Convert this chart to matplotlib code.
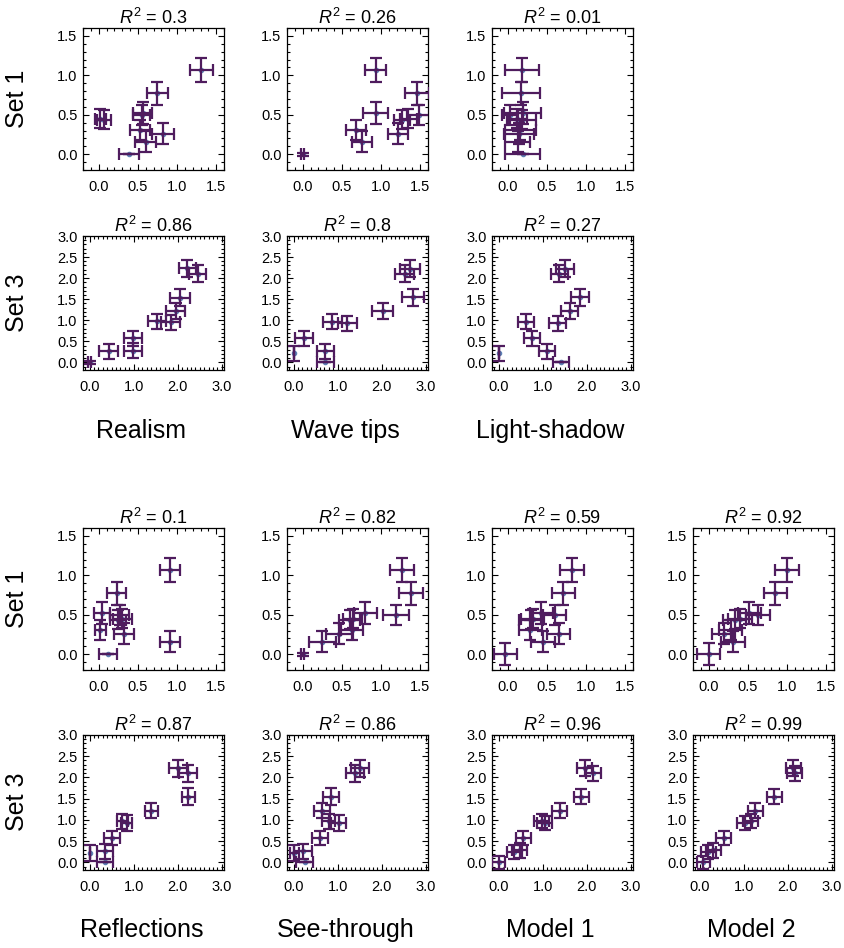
import matplotlib
matplotlib.use("Agg")
import matplotlib.pyplot as plt
from matplotlib.ticker import MultipleLocator, FormatStrFormatter

plt.rcParams['font.family'] = ['Liberation Sans', 'DejaVu Sans']
plt.rcParams['mathtext.fontset'] = 'custom'
plt.rcParams['mathtext.rm'] = 'Liberation Sans'
plt.rcParams['mathtext.it'] = 'Liberation Sans:italic'

# ---------------- Set 1 ----------------
s1_y = [1.07, 0.77, 0.52, 0.50, 0.45, 0.44, 0.31, 0.26, 0.16, 0.0]
s1_yerr = [0.15, 0.14, 0.14, 0.13, 0.12, 0.12, 0.13, 0.13, 0.13, 0.0]

realism1_x = [1.31, 0.75, 0.56, 0.55, 0.02, 0.07, 0.53, 0.82, 0.60, 0.39]
realism1_xerr = [0.15, 0.13, 0.12, 0.11, 0.07, 0.09, 0.13, 0.14, 0.13, 0.13]

wave1_x = [0.93, 1.46, 0.93, 1.48, 1.35, 1.27, 0.68, 1.22, 0.76, 0.0]
wave1_xerr = [0.14, 0.15, 0.16, 0.15, 0.11, 0.10, 0.13, 0.13, 0.13, 0.02]
wave1_yerr = [0.15, 0.14, 0.14, 0.13, 0.12, 0.12, 0.13, 0.13, 0.13, 0.02]

light1_x = [0.18, 0.17, 0.19, 0.03, 0.12, 0.18, 0.16, 0.14, 0.13, 0.19]
light1_xerr = [0.22, 0.24, 0.24, 0.10, 0.13, 0.18, 0.20, 0.19, 0.16, 0.22]

refl1_x = [0.91, 0.23, 0.04, 0.27, 0.30, 0.25, 0.02, 0.32, 0.91, 0.12]
refl1_xerr = [0.13, 0.12, 0.10, 0.12, 0.12, 0.10, 0.07, 0.13, 0.13, 0.12]

see1_x = [1.27, 1.38, 0.80, 1.19, 0.64, 0.60, 0.63, 0.47, 0.25, 0.0]
see1_xerr = [0.15, 0.15, 0.15, 0.17, 0.12, 0.13, 0.14, 0.17, 0.17, 0.02]
see1_yerr = [0.15, 0.14, 0.14, 0.13, 0.12, 0.12, 0.13, 0.13, 0.13, 0.02]

model1_1_x = [0.82, 0.71, 0.43, 0.60, 0.32, 0.30, 0.29, 0.65, 0.45, -0.03]
model2_1_x = [1.00, 0.85, 0.52, 0.63, 0.40, 0.33, 0.28, 0.19, 0.31, 0.0]
model_1_xerr = [0.15] * 10
model_1_yerr = [0.15, 0.14, 0.14, 0.13, 0.12, 0.12, 0.13, 0.13, 0.13, 0.14]

# ---------------- Set 3 ----------------
s3_y = [2.22, 2.10, 1.55, 1.22, 0.97, 0.93, 0.57, 0.26, 0.22, 0.0]
s3_yerr = [0.20, 0.20, 0.20, 0.18, 0.18, 0.18, 0.17, 0.17, 0.18, 0.0]

realism3_x = [2.22, 2.45, 2.05, 1.95, 1.53, 1.84, 0.98, 0.43, 0.98, 0.0]
realism3_y = [2.23, 2.10, 1.54, 1.22, 0.98, 0.95, 0.57, 0.26, 0.28, 0.0]
realism3_xerr = [0.20, 0.20, 0.22, 0.22, 0.20, 0.22, 0.20, 0.22, 0.20, 0.03]
realism3_yerr = [0.20, 0.20, 0.20, 0.20, 0.18, 0.18, 0.18, 0.17, 0.17, 0.03]

wave3_x = [2.64, 2.52, 2.72, 2.02, 0.88, 1.22, 0.24, 0.72, 0.02, 0.72]
wave3_xerr = [0.22, 0.22, 0.25, 0.23, 0.22, 0.22, 0.20, 0.20, 0.0, 0.20]

light3_x = [1.51, 1.38, 1.85, 1.61, 0.63, 1.34, 0.75, 1.09, 0.02, 1.42]
light3_xerr = [0.20, 0.20, 0.20, 0.20, 0.18, 0.20, 0.18, 0.18, 0.0, 0.18]

refl3_x = [2.00, 2.24, 2.24, 1.40, 0.74, 0.84, 0.51, 0.35, 0.0, 0.35]
refl3_xerr = [0.20, 0.20, 0.15, 0.15, 0.12, 0.12, 0.18, 0.18, 0.0, 0.18]

see3_x = [1.51, 1.39, 0.84, 0.65, 0.80, 1.02, 0.60, 0.21, 0.02, 0.25]
see3_xerr = [0.20, 0.20, 0.18, 0.18, 0.15, 0.18, 0.18, 0.20, 0.10, 0.20]

model1_3_x = [1.95, 2.15, 1.88, 1.39, 0.98, 1.05, 0.56, 0.35, 0.48, 0.0]
model2_3_x = [2.13, 2.16, 1.69, 1.26, 1.16, 1.02, 0.55, 0.20, 0.31, 0.08]
model_3_y = [2.22, 2.10, 1.55, 1.22, 0.97, 0.93, 0.57, 0.25, 0.28, 0.0]
model_3_xerr = [0.17, 0.17, 0.17, 0.17, 0.17, 0.17, 0.17, 0.17, 0.17, 0.15]
model_3_yerr = [0.18, 0.18, 0.18, 0.17, 0.17, 0.17, 0.17, 0.17, 0.17, 0.15]

top_names = ['Realism', 'Wave tips', 'Light-shadow']
bottom_names = ['Reflections', 'See-through', 'Model 1', 'Model 2']
top_r2_set1 = [0.3, 0.26, 0.01]
top_r2_set3 = [0.86, 0.8, 0.27]
bottom_r2_set1 = [0.1, 0.82, 0.59, 0.92]
bottom_r2_set3 = [0.87, 0.86, 0.96, 0.99]

W, H = 844, 948
fig = plt.figure(figsize=(W / 100, H / 100), dpi=100)

bar_color = '#4f1c5e'
dot_color = '#5e81b5'
col_left = [83, 287, 492, 693]
box_w = 141


def panel(col, top, h, x, y, xerr, yerr, r2, set3):
    ax = fig.add_axes([col_left[col] / W, 1 - (top + h) / H, box_w / W, h / H])
    ax.plot(x, y, 'o', ms=3, color=dot_color, zorder=2)
    ax.errorbar(x, y, xerr=xerr, yerr=yerr, fmt='none', ecolor=bar_color,
                elinewidth=1.6, capsize=4, capthick=1.6, zorder=3)
    if set3:
        ax.set_xlim(-0.15, 3.05)
        ax.set_ylim(-0.18, 3.0)
        ax.xaxis.set_major_locator(MultipleLocator(1.0))
        ax.yaxis.set_major_locator(MultipleLocator(0.5))
    else:
        ax.set_xlim(-0.2, 1.6)
        ax.set_ylim(-0.2, 1.6)
        ax.xaxis.set_major_locator(MultipleLocator(0.5))
        ax.yaxis.set_major_locator(MultipleLocator(0.5))
    ax.xaxis.set_minor_locator(MultipleLocator(0.1))
    ax.yaxis.set_minor_locator(MultipleLocator(0.1))
    ax.xaxis.set_major_formatter(FormatStrFormatter('%.1f'))
    ax.yaxis.set_major_formatter(FormatStrFormatter('%.1f'))
    ax.tick_params(which='both', direction='in', top=True, right=True,
                   labelsize=10.5, width=0.8)
    ax.tick_params(axis='y', pad=4)
    ax.tick_params(axis='x', pad=7)
    ax.tick_params(which='major', length=4)
    ax.tick_params(which='minor', length=2)
    for s in ax.spines.values():
        s.set_linewidth(0.9)
    ax.set_title(f'$R^2$ = {r2}', fontsize=13, pad=3)
    return ax


# top group
panel(0, 28, 142, realism1_x, s1_y, realism1_xerr, s1_yerr, top_r2_set1[0], False)
panel(1, 28, 142, wave1_x, s1_y, wave1_xerr, wave1_yerr, top_r2_set1[1], False)
panel(2, 28, 142, light1_x, s1_y, light1_xerr, s1_yerr, top_r2_set1[2], False)
panel(0, 236, 134, realism3_x, realism3_y, realism3_xerr, realism3_yerr, top_r2_set3[0], True)
panel(1, 236, 134, wave3_x, s3_y, wave3_xerr, s3_yerr, top_r2_set3[1], True)
panel(2, 236, 134, light3_x, s3_y, light3_xerr, s3_yerr, top_r2_set3[2], True)

# bottom group
panel(0, 528, 142, refl1_x, s1_y, refl1_xerr, s1_yerr, bottom_r2_set1[0], False)
panel(1, 528, 142, see1_x, s1_y, see1_xerr, see1_yerr, bottom_r2_set1[1], False)
panel(2, 528, 142, model1_1_x, s1_y, model_1_xerr, model_1_yerr, bottom_r2_set1[2], False)
panel(3, 528, 142, model2_1_x, s1_y, model_1_xerr, model_1_yerr, bottom_r2_set1[3], False)
panel(0, 735, 135, refl3_x, s3_y, refl3_xerr, s3_yerr, bottom_r2_set3[0], True)
panel(1, 735, 135, see3_x, s3_y, see3_xerr, s3_yerr, bottom_r2_set3[1], True)
panel(2, 735, 135, model1_3_x, model_3_y, model_3_xerr, model_3_yerr, bottom_r2_set3[2], True)
panel(3, 735, 135, model2_3_x, model_3_y, model_3_xerr, model_3_yerr, bottom_r2_set3[3], True)

# row labels
for yc, txt in [(99, 'Set 1'), (303, 'Set 3'), (599, 'Set 1'), (802, 'Set 3')]:
    fig.text(17 / W, 1 - yc / H, txt, rotation=90, ha='center', va='center', fontsize=18)

# column labels
for i, txt in enumerate(top_names):
    fig.text((col_left[i] + box_w / 2 - 12) / W, 1 - 431 / H, txt,
             ha='center', va='center', fontsize=18)
for i, txt in enumerate(bottom_names):
    fig.text((col_left[i] + box_w / 2 - 12) / W, 1 - 930 / H, txt,
             ha='center', va='center', fontsize=18)

fig.savefig('out.png', dpi=100)
